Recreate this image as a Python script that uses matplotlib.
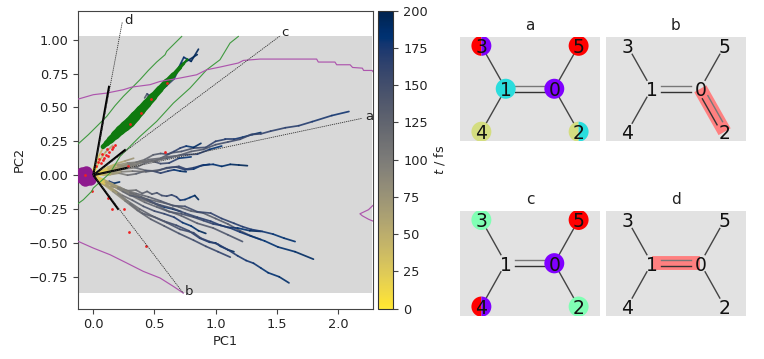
import matplotlib
matplotlib.use("Agg")
import matplotlib.pyplot as plt
import numpy as np
from matplotlib.collections import LineCollection
from matplotlib.patches import Rectangle, Wedge, Circle
from matplotlib.cm import ScalarMappable
from matplotlib.colors import Normalize

W, H = 764, 359

# ---------- trajectories (PC1, PC2, time) ----------
a1_x = [0, .08, .15, .22, .30, .40, .50, .60, .70, .80, .90, 1.00, 1.10, 1.20, 1.29, 1.37, 1.45, 1.57, 1.68, 1.79, 1.95, 2.09]
a1_y = [0, .02, .035, .06, .07, .095, .105, .135, .145, .175, .19, .225, .245, .265, .30, .305, .325, .35, .365, .395, .44, .47]
a1_t = [0, 30, 50, 70, 90, 105, 115, 122, 128, 134, 140, 145, 150, 154, 158, 160, 162, 165, 168, 172, 176, 180]
a2_x = [0, .10, .18, .26, .35, .45, .55, .64, .72, .82, .92, 1.00, 1.08, 1.15, 1.22, 1.30, 1.37]
a2_y = [0, .03, .05, .05, .075, .115, .125, .165, .175, .20, .205, .25, .265, .265, .28, .30, .315]
a2_t = [0, 35, 60, 85, 105, 118, 128, 136, 144, 150, 158, 164, 170, 175, 180, 186, 192]
a3_x = [0, .12, .20, .28, .35, .42, .49, .55, .61, .66, .71, .76, .82, .88]
a3_y = [0, .04, .075, .09, .095, .115, .15, .16, .155, .175, .20, .215, .205, .235]
a3_t = [0, 35, 65, 90, 105, 118, 130, 140, 150, 158, 168, 176, 185, 195]
a4_x = [0, .08, .15, .23, .32, .43, .545, .62, .70, .76, .82, .90, .98, 1.05, 1.12, 1.19, 1.26]
a4_y = [0, .005, .01, .025, .03, .025, .04, .055, .065, .045, .055, .075, .08, .065, .08, .075, .07]
a4_t = [0, 35, 60, 85, 105, 125, 140, 150, 158, 164, 170, 176, 182, 186, 190, 194, 198]
a5_x = [0, .09, .16, .25, .34, .43, .52, .60, .68, .75, .82, .88, .95]
a5_y = [0, .015, .02, .045, .055, .035, .03, .055, .06, .04, .045, .07, .08]
a5_t = [0, 40, 65, 90, 110, 130, 145, 155, 165, 172, 180, 186, 192]
a6_x = [0, .08, .14, .21, .28, .35, .42, .49, .55, .61, .66, .71, .76]
a6_y = [0, .005, .005, .015, .00, .01, .03, .03, .015, .03, .04, .03, .025]
a6_t = [0, 40, 65, 90, 110, 125, 140, 152, 162, 170, 178, 186, 195]
a7_x = [0, .10, .20, .29, .38, .48, .60, .72, .85, .95, 1.05]
a7_y = [0, .03, .06, .08, .10, .105, .125, .15, .155, .19, .215]
a7_t = [0, 35, 70, 92, 110, 122, 135, 150, 165, 178, 190]
a8_x = [0, .06, .12, .18, .24, .30, .36, .42, .48, .55, .62, .70, .80]
a8_y = [0, .025, .045, .075, .07, .085, .06, .09, .105, .085, .09, .125, .135]
a8_t = [0, 25, 45, 62, 80, 95, 110, 122, 135, 148, 160, 172, 190]
a9_x = [0, .06, .12, .19, .26, .33]
a9_y = [0, .03, .06, .085, .105, .125]
a9_t = [0, 20, 38, 52, 66, 80]

b0_x = [0, .04, .07, .10, .13, .17, .215]
b0_y = [0, -.035, -.06, -.075, -.045, -.06, -.05]
b0_t = [0, 60, 110, 140, 165, 185, 198]
b1_x = [0, .07, .13, .20, .27, .35, .40, .44, .48, .52, .56, .60, .64, .68, .71, .75, .79, .83, .86]
b1_y = [0, -.06, -.085, -.09, -.115, -.11, -.135, -.12, -.14, -.13, -.15, -.155, -.145, -.16, -.185, -.18, -.165, -.15, -.18]
b1_t = [0, 40, 70, 90, 105, 118, 125, 132, 138, 144, 150, 155, 160, 166, 172, 178, 184, 190, 198]
b2_x = [0, .08, .15, .25, .35, .45, .55, .65, .75, .85, .96, 1.05, 1.15, 1.22, 1.29, 1.38, 1.47, 1.56, 1.65]
b2_y = [0, -.04, -.07, -.105, -.135, -.16, -.19, -.225, -.23, -.27, -.28, -.32, -.355, -.38, -.40, -.415, -.435, -.465, -.49]
b2_t = [0, 45, 75, 100, 118, 128, 136, 142, 148, 154, 160, 164, 168, 171, 174, 177, 180, 184, 188]
b3_x = [0, .10, .20, .30, .39, .47, .545, .65, .75, .85, .96, 1.04, 1.12, 1.20, 1.29, 1.40, 1.51, 1.65, 1.80]
b3_y = [0, -.05, -.09, -.13, -.16, -.20, -.22, -.245, -.28, -.31, -.34, -.37, -.39, -.42, -.45, -.485, -.53, -.565, -.62]
b3_t = [0, 50, 85, 110, 125, 135, 142, 150, 156, 162, 167, 170, 173, 176, 179, 182, 185, 188, 192]
b4_x = [0, .10, .20, .30, .40, .50, .60, .71, .82, .88, .95, 1.02, 1.10, 1.18, 1.25, 1.31, 1.37, 1.43, 1.52, 1.60]
b4_y = [0, -.07, -.135, -.21, -.28, -.31, -.35, -.40, -.425, -.465, -.49, -.51, -.55, -.595, -.63, -.65, -.685, -.72, -.75, -.795]
b4_t = [0, 50, 85, 110, 125, 135, 142, 150, 156, 160, 164, 167, 170, 173, 176, 178, 180, 182, 186, 190]
b5_x = [0, .09, .18, .28, .38, .48, .58, .68, .78, .87, .95, 1.00, 1.04, 1.10, 1.15]
b5_y = [0, -.06, -.115, -.19, -.25, -.30, -.34, -.37, -.41, -.465, -.495, -.50, -.525, -.55, -.565]
b5_t = [0, 45, 80, 105, 122, 134, 145, 155, 162, 170, 176, 182, 186, 192, 198]
b6_x = [0, .11, .22, .33, .45, .58, .70, .80, .90, 1.00, 1.10, 1.20, 1.28, 1.37]
b6_y = [0, -.045, -.09, -.14, -.18, -.205, -.235, -.265, -.28, -.32, -.36, -.41, -.445, -.475]
b6_t = [0, 45, 85, 108, 120, 125, 128, 130, 132, 134, 136, 138, 140, 142]
b7_x = [0, .10, .20, .31, .42, .52, .62, .72, .82, .90, .98, 1.04, 1.10, 1.18, 1.28, 1.37]
b7_y = [0, -.05, -.10, -.15, -.20, -.235, -.27, -.285, -.31, -.335, -.36, -.37, -.385, -.39, -.41, -.415]
b7_t = [0, 45, 80, 105, 120, 130, 136, 142, 150, 156, 162, 168, 174, 180, 190, 198]
b8_x = [0, .08, .16, .24, .32, .41, .50, .58, .66, .73, .80, .86, .92]
b8_y = [0, -.055, -.105, -.15, -.185, -.23, -.265, -.285, -.31, -.35, -.375, -.41, -.43]
b8_t = [0, 45, 80, 105, 125, 140, 152, 160, 168, 176, 184, 190, 198]
b9_x = [0, .09, .17, .24, .30, .37, .44, .51, .58, .65, .72]
b9_y = [0, -.035, -.075, -.12, -.15, -.16, -.18, -.21, -.235, -.25, -.27]
b9_t = [0, 50, 85, 110, 128, 142, 155, 166, 176, 186, 195]
b10_x = [0, .08, .16, .26, .36, .47, .58, .70, .82, .92, 1.02, 1.12]
b10_y = [0, -.065, -.12, -.19, -.26, -.325, -.375, -.43, -.48, -.525, -.565, -.605]
b10_t = [0, 45, 75, 100, 118, 130, 138, 144, 150, 155, 160, 165]
b11_x = [0, .08, .17, .27, .38, .49, .60, .72, .85, .98, 1.10, 1.22]
b11_y = [0, -.045, -.085, -.125, -.175, -.205, -.26, -.30, -.355, -.39, -.44, -.49]
b11_t = [0, 40, 70, 95, 110, 120, 126, 130, 134, 138, 142, 148]

g0_x = [0, .03, .06, .10, .16]
g0_y = [0, .06, .12, .17, .22]
g0_t = [0, 20, 35, 50, 70]
g4_x = [-.01, .02, .05, .08, .12]
g4_y = [.02, .09, .15, .20, .26]
g4_t = [0, 20, 35, 50, 70]
g1_x = [.40, .45, .52, .60, .68, .74, .80, .86]
g1_y = [.49, .585, .60, .68, .76, .87, .84, .93]
g1_t = [110, 130, 150, 165, 175, 185, 192, 198]
g2_x = [.45, .50, .58, .66, .72, .78, .85]
g2_y = [.53, .61, .645, .71, .82, .85, .89]
g2_t = [125, 140, 155, 165, 180, 190, 198]
g3_x = [.42, .44, .48, .53, .60]
g3_y = [.57, .60, .575, .63, .66]
g3_t = [120, 150, 165, 180, 195]

trajectories = [
    (g0_x, g0_y, g0_t), (g4_x, g4_y, g4_t), (g1_x, g1_y, g1_t), (g2_x, g2_y, g2_t), (g3_x, g3_y, g3_t),
    (a9_x, a9_y, a9_t), (a8_x, a8_y, a8_t), (a7_x, a7_y, a7_t), (a5_x, a5_y, a5_t), (a6_x, a6_y, a6_t),
    (a2_x, a2_y, a2_t), (a3_x, a3_y, a3_t), (a4_x, a4_y, a4_t), (a1_x, a1_y, a1_t),
    (b0_x, b0_y, b0_t), (b6_x, b6_y, b6_t), (b11_x, b11_y, b11_t), (b10_x, b10_y, b10_t),
    (b7_x, b7_y, b7_t), (b9_x, b9_y, b9_t),
    (b8_x, b8_y, b8_t), (b1_x, b1_y, b1_t), (b2_x, b2_y, b2_t), (b3_x, b3_y, b3_t),
    (b5_x, b5_y, b5_t), (b4_x, b4_y, b4_t),
]

# green band (centre line and width)
band_x = [.08, .11, .14, .18, .22, .26, .30, .345, .39, .44, .49, .545, .60, .655, .71, .74, .77]
band_y = [.21, .235, .26, .295, .33, .36, .39, .435, .48, .53, .58, .635, .69, .74, .795, .825, .855]
band_w = [3.5, 4.5, 5.5, 6.5, 7.0, 7.5, 7.5, 7.0, 6.5, 6.0, 5.2, 4.6, 3.8, 3.0, 2.2, 1.6, 1.0]

red_x = [.02, .04, .05, .06, .07, .08, .09, .10, .11, .12, .13, .15, .16, .18, .30, .39, .47, .60, .28, .59, -.07, -.01, .12, .15, .25, .29, .43]
red_y = [.07, .10, .12, .09, .16, .11, .13, .15, .19, .14, .17, .19, .21, .22, .38, .46, .56, .68, .07, .17, .0, -.12, -.17, -.25, -.25, -.42, -.52]

blob_x = [-.08, -.05, -.07, -.09, -.06, -.04, -.10, -.07, -.03]
blob_y = [.0, -.02, -.035, .015, .025, .0, -.015, .0, -.03]

# PCA axes
axis_end_x = [.28, .207, .265, .13]
axis_end_y = [.055, -.255, .19, .66]
dots_end_x = [2.20, .735, 1.53, .237]
dots_end_y = [.42, -.87, 1.03, 1.13]
axis_names = ["a", "b", "c", "d"]
axis_lab_x = [2.22, .75, 1.54, .25]
axis_lab_y = [.43, -.855, 1.05, 1.14]

# contours
green1_x = [-.122, -.04, .028, .11, .178, .246, .314, .382, .45, .518, .587, .60, .668, .723]
green1_y = [.232, .299, .36, .434, .513, .582, .643, .705, .773, .835, .889, .914, .975, 1.024]
green2_x = [-.125, -.081, -.013, .0, .137, .219, .382, .518, .655, .791, .927, 1.036, 1.118, 1.186]
green2_y = [-.21, -.181, -.119, -.095, .016, .139, .286, .397, .532, .643, .778, .852, .975, 1.024]
purple1_x = [-.122, .0, .11, .246, .314, .464, .546, .709, .845, .927, 1.036, 1.186, 1.227, 1.363, 1.826, 1.84, 1.976, 1.99, 2.1, 2.12, 2.2, 2.21, 2.28, 2.29]
purple1_y = [.562, .594, .606, .631, .65, .668, .692, .717, .741, .778, .798, .828, .847, .857, .857, .835, .835, .815, .815, .795, .79, .773, .773, .76]
purple2_x = [-.122, 0, .137, .273, .409, .546, .655, .736]
purple2_y = [-.489, -.538, -.587, -.648, -.71, -.759, -.821, -.87]
purple3_x = [2.29, 2.25, 2.215, 2.18, 2.2, 2.25, 2.29]
purple3_y = [-.22, -.255, -.27, -.285, -.3, -.325, -.34]

# molecule
atom_ids = ["0", "1", "2", "3", "4", "5"]
atom_x = [.5, -.5, 1.0, -1.0, -1.0, 1.0]
atom_y = [0, 0, -.88, .88, -.88, .88]
single_bonds = [(1, 3), (1, 4), (0, 5), (0, 2)]
panel_names = ["a", "b", "c", "d"]
rb_purple, rb_cyan, rb_mint, rb_olive, rb_red = "#8000ff", "#2adddd", "#80ffb4", "#d4dd80", "#ff0000"
panel_a_atoms = {0: [rb_purple], 1: [rb_cyan], 2: [rb_olive, rb_cyan], 3: [rb_red, rb_purple], 4: [rb_olive], 5: [rb_red]}
panel_c_atoms = {0: [rb_purple], 2: [rb_mint], 3: [rb_mint], 4: [rb_red, rb_purple], 5: [rb_red]}
panel_b_bond = (0, 2)
panel_d_bond = (1, 0)

# ---------- figure ----------
def box(l, t, r, b):
    return [l / W, 1 - b / H, (r - l) / W, (b - t) / H]

fig = plt.figure(figsize=(W / 100, H / 100), dpi=100)
ax = fig.add_axes(box(78, 10.7, 373, 308.5))
ax.set_xlim(-.125, 2.287)
ax.set_ylim(-.984, 1.214)
SPINE = "#444444"
for s in ax.spines.values():
    s.set_color(SPINE)

ax.add_patch(Rectangle((-.125, -.87), 2.403, 1.90, fc="#d8d8d8", ec="none", zorder=0))

cmap = plt.get_cmap("cividis_r")
norm = Normalize(0, 200)
for x, y, t in trajectories:
    pts = np.column_stack([x, y])
    segs = np.stack([pts[:-1], pts[1:]], axis=1)
    mids = (np.asarray(t[:-1]) + np.asarray(t[1:])) / 2
    lc = LineCollection(segs, array=mids, cmap=cmap, norm=norm, linewidths=1.25,
                        capstyle="round", alpha=.9, zorder=2)
    ax.add_collection(lc)

pts = np.column_stack([band_x, band_y])
segs = np.stack([pts[:-1], pts[1:]], axis=1)
ax.add_collection(LineCollection(segs, colors="#0f7a0f", linewidths=band_w[:-1],
                                 capstyle="round", zorder=3))
ax.scatter(blob_x, blob_y, s=80, color="#8e1a8e", lw=0, zorder=3)
ax.scatter(red_x, red_y, s=4, color="#f02020", lw=0, zorder=4)

for cx, cy in [(green1_x, green1_y), (green2_x, green2_y)]:
    ax.plot(cx, cy, color="#3f9a3f", lw=.8, zorder=5)
for cx, cy in [(purple1_x, purple1_y), (purple2_x, purple2_y), (purple3_x, purple3_y)]:
    ax.plot(cx, cy, color="#ad55ad", lw=.85, zorder=5)

for ex, ey, dx, dy, name, lx, ly in zip(axis_end_x, axis_end_y, dots_end_x, dots_end_y,
                                        axis_names, axis_lab_x, axis_lab_y):
    ax.plot([0, ex], [0, ey], color="k", lw=1.5, zorder=6, solid_capstyle="butt")
    ax.plot([0, dx], [0, dy], color="#333333", lw=.6, ls=(0, (1.5, 1)), zorder=6)
    ax.text(lx, ly, name, fontsize=9.5, ha="left", va="center", zorder=7, color="#222222")

ax.set_xticks([0, .5, 1, 1.5, 2])
ax.set_xticklabels(["0.0", "0.5", "1.0", "1.5", "2.0"])
ax.set_yticks([-.75, -.5, -.25, 0, .25, .5, .75, 1])
ax.set_yticklabels(["\u22120.75", "\u22120.50", "\u22120.25", "0.00", "0.25", "0.50", "0.75", "1.00"])
ax.tick_params(labelsize=9.3, color=SPINE, labelcolor="#222222")
ax.set_xlabel("PC1", fontsize=9.3, color="#222222", labelpad=3)
ax.set_ylabel("PC2", fontsize=9.3, color="#222222", labelpad=2)

cax = fig.add_axes(box(378, 10.7, 393.5, 308.5))
cb = fig.colorbar(ScalarMappable(norm=norm, cmap=cmap), cax=cax, ticks=list(range(0, 201, 25)))
cb.ax.tick_params(labelsize=9.3, color=SPINE, labelcolor="#222222")
cb.outline.set_edgecolor("#333333")
cb.set_label("$t$ / fs", fontsize=9.3, color="#222222", labelpad=3)

panel_boxes = [(460, 37, 600, 140.5), (606, 37, 746, 140.5), (460, 211, 600, 315.5), (606, 211, 746, 315.5)]
HW = .205

def draw_bond(pax, i, j, double=False):
    p, q = np.array([atom_x[i], atom_y[i]]), np.array([atom_x[j], atom_y[j]])
    d = q - p
    L = np.hypot(*d)
    u = d / L
    a, b = p + u * .2, q - u * .2
    if double:
        n = np.array([-u[1], u[0]]) * .065
        pax.plot(*zip(a + n, b + n), color="#777777", lw=1, zorder=2)
        pax.plot(*zip(a - n, b - n), color="#333333", lw=1, zorder=2)
    else:
        pax.plot(*zip(a, b), color="#444444", lw=1, zorder=2)

for name, pb in zip(panel_names, panel_boxes):
    pax = fig.add_axes(box(*pb))
    pax.set_xlim(-1.44, 1.44)
    pax.set_ylim(-1.06, 1.06)
    pax.set_facecolor("#e2e2e2")
    for s in pax.spines.values():
        s.set_visible(False)
    pax.set_xticks([])
    pax.set_yticks([])
    pax.set_title(name, fontsize=11, pad=5, color="#222222")
    hl = {"b": panel_b_bond, "d": panel_d_bond}.get(name)
    if hl:
        i, j = hl
        pax.plot([atom_x[i], atom_x[j]], [atom_y[i], atom_y[j]], color="#ff8080", lw=10,
                 solid_capstyle="butt", zorder=1)
    for i, j in single_bonds:
        draw_bond(pax, i, j, double=(name == "b" and (i, j) == (0, 2)))
    draw_bond(pax, 1, 0, double=True)
    atoms = {"a": panel_a_atoms, "c": panel_c_atoms}.get(name, {})
    for idx, cols in atoms.items():
        c = (atom_x[idx], atom_y[idx])
        if len(cols) == 1:
            pax.add_patch(Circle(c, HW, fc=cols[0], ec="none", zorder=3))
        else:
            pax.add_patch(Wedge(c, HW, 90, 270, fc=cols[0], ec="none", zorder=3))
            pax.add_patch(Wedge(c, HW, -90, 90, fc=cols[1], ec="none", zorder=3))
    for lab, ax_, ay_ in zip(atom_ids, atom_x, atom_y):
        pax.text(ax_, ay_, lab, fontsize=13.5, ha="center", va="center_baseline", color="#111111", zorder=4)

fig.savefig("out.png", dpi=100)
